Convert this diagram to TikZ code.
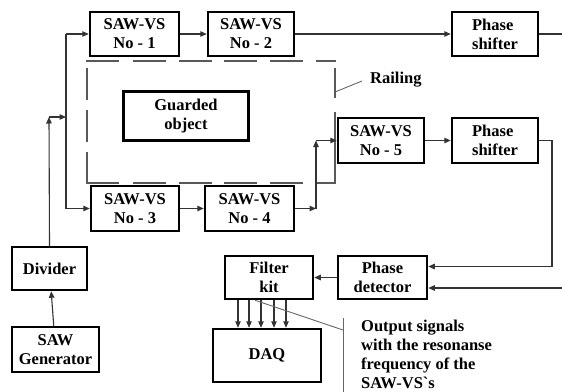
\documentclass[tikz,border=0pt]{standalone}
\usepackage{fontspec}
\setmainfont{Liberation Serif}
\usetikzlibrary{arrows.meta,calc}
\begin{document}
\begin{tikzpicture}[x=1pt,y=-1pt,
  txt/.style={font=\bfseries\fontsize{16.5}{19}\selectfont},
  box/.style={draw=black, line width=2.5pt, minimum width=#1, minimum height=44pt,
    inner sep=0pt, align=center, txt},
  box/.default=88pt,
  conn/.style={draw=black!80, line width=1.1pt},
  arr/.style={conn, -{Triangle[length=6.5pt,width=5.5pt]}},
  rail/.style={draw=black!65, line width=2.6pt},
  thin/.style={draw=black!60, line width=0.9pt}]
\useasboundingbox (0,0) rectangle (562,391);
\clip (0,0) rectangle (562,391);
% railing
\draw[rail] (86,61)--(119,61) (133,61)--(166,61) (179,61)--(212,61)
  (224,61)--(257,61) (270,61)--(303,61) (316,61)--(336,61)
  (87,68)--(87,100) (87,110)--(87,142) (87,152)--(87,184)
  (86,183)--(119,183) (133,183)--(166,183) (179,183)--(212,183)
  (224,183)--(257,183) (270,183)--(303,183) (315,183)--(335,183)--(335,112)
  (335,68)--(335,98);
% boxes
\node[box=89pt] (s1) at (134.5,34) {SAW-VS\\No - 1};
\node[box=86pt] (s2) at (251,34) {SAW-VS\\No - 2};
\node[box=86pt, align=left] (ps1) at (495,34) {Phase\\shifter};
\node[box=125pt, minimum height=49pt, line width=3.4pt] (go) at (186,116) {Guarded\\object};
\node[box=86pt, minimum height=45pt] (s5) at (381,140.5) {SAW-VS\\No - 5};
\node[box=86pt, minimum height=45pt, align=left] (ps2) at (495,140.5) {Phase\\shifter};
\node[box=88pt, minimum height=45pt] (s3) at (135,208.5) {SAW-VS\\No - 3};
\node[box=89pt, minimum height=45pt] (s4) at (249.5,208.5) {SAW-VS\\No - 4};
\node[box=75pt, minimum height=43pt] (div) at (49.5,268.5) {Divider};
\node[box=87pt, minimum height=45pt] (gen) at (55.5,349.5) {SAW\\Generator};
\node[box=88pt, minimum height=43pt] (fk) at (269,277.5) {Filter\\kit};
\node[box=89pt, minimum height=43pt] (pd) at (382.5,277.5) {Phase\\detector};
\node[box=108pt, minimum height=53pt] (daq) at (267,355.5) {DAQ};
\node[txt, anchor=west, inner sep=0pt] (rl) at (370,80) {Railing};
\node[txt, anchor=north west, align=left, inner sep=0pt] (out) at (361,320)
  {Output signals\\with the resonanse\\frequency of the\\SAW-VS\textasciigrave s};
% connectors
\coordinate (e1) at (562,34);
\draw[conn] (ps1.east) -- (e1);
\draw[arr] (s1) -- (s2);
\draw[arr] (s2) -- (ps1);
\draw[arr] (gen) -- (div);
\coordinate (d1) at (49,117);
\coordinate (d2) at (66,117);
\coordinate (t1) at (66,34);
\coordinate (t3) at (66,208.5);
\draw[arr] (div.north) -- (d1);
\draw[arr] (d1) -- (d2);
\draw[conn] (t1) -- (t3);
\draw[arr] (t1) -- (s1.west);
\draw[arr] (t3) -- (s3.west);
\draw[arr] (s3) -- (s4);
\coordinate (f1) at (316,208.5);
\coordinate (f2) at (316,140.5);
\draw[arr] (s4.east) -- (f1);
\draw[arr] (f1) -- (f2);
\draw[arr] (f2) -- (s5.west);
\draw[arr] (s5) -- (ps2);
\coordinate (r1) at (552,140.5);
\draw[arr] (ps2.east) -- (r1) |- ($(pd.east)+(0,-11)$);
\coordinate (e2) at (562,288);
\draw[arr] (e2) -- ($(pd.east)+(0,10.5)$);
\draw[arr] (pd) -- (fk);
\foreach \xx [count=\i] in {238,249,261,274,286} {
  \coordinate (a\i) at (\xx,0);
  \draw[arr] (fk.south -| a\i) -- (daq.north -| a\i);
}
% annotation
\coordinate (v1) at (343,318);
\coordinate (v2) at (343,395);
\coordinate (v3) at (343,330);
\draw[thin] (v1) -- (v2);
\draw[thin] ($(fk.south)+(-14,0)$) -- (v3);
\coordinate (rc) at (335,92);
\coordinate (rc2) at (362,81);
\draw[thin] (rc) -- (rc2);
\end{tikzpicture}
\end{document}
